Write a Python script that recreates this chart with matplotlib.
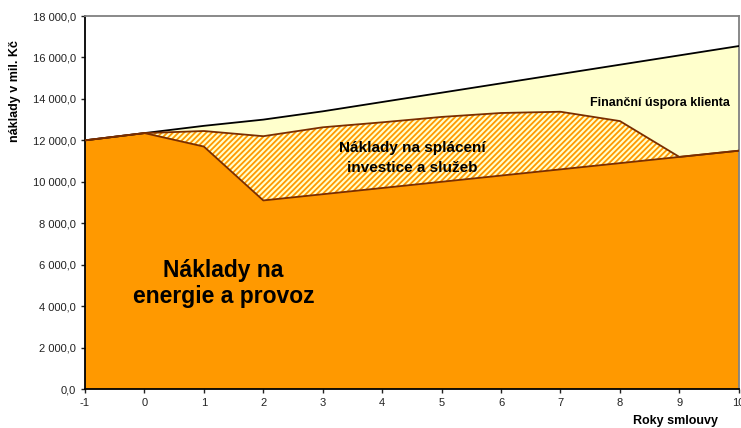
import numpy as np
import matplotlib.pyplot as plt
from matplotlib.ticker import FuncFormatter

plt.rcParams.update({
    'font.family': ['Liberation Sans', 'DejaVu Sans'],
    'hatch.linewidth': 1.3,
    'axes.unicode_minus': False,
})

# ── Data ──────────────────────────────────────────────────────────────────────
years = [-1, 0, 1, 2, 3, 4, 5, 6, 7, 8, 9, 10]
energie = [12000, 12350, 11700, 9100, 9400, 9700, 10000, 10300, 10600, 10900, 11200, 11500]
splaceni = [12000, 12350, 12450, 12200, 12630, 12870, 13130, 13320, 13380, 12930, 11200, 11500]
celkem = [12000, 12350, 12700, 13000, 13400, 13850, 14300, 14750, 15200, 15650, 16100, 16550]
y_ticks = np.arange(0, 18001, 2000)

ORANGE = '#FF9900'
YELLOW = '#FFFFCC'
BROWN = '#7A2E00'

fig = plt.figure(figsize=(7.41, 4.28), dpi=100)
ax = fig.add_axes([0.1147, 0.0911, 0.8823, 0.8715])

ax.fill_between(years, celkem, splaceni, facecolor=YELLOW, linewidth=0, zorder=1)
ax.fill_between(years, splaceni, energie, facecolor=YELLOW, edgecolor=ORANGE,
                hatch='//////', linewidth=0, zorder=1)
ax.fill_between(years, energie, 0, facecolor=ORANGE, linewidth=0, zorder=1)

ax.plot(years, celkem, color='black', linewidth=1.3, zorder=3)
ax.plot(years, splaceni, color=BROWN, linewidth=1.3, zorder=3)
ax.plot(years, energie, color=BROWN, linewidth=1.3, zorder=3)

ax.set_xlim(-1, 10)
ax.set_ylim(0, 18000)
ax.set_xticks(years)
ax.set_yticks(y_ticks)
ax.yaxis.set_major_formatter(FuncFormatter(
    lambda v, p: f"{v:,.1f}".replace(',', ' ').replace('.', ',')))
ax.tick_params(labelsize=8, length=3, width=1, colors='#222222')

for s in ['left', 'bottom']:
    ax.spines[s].set_color('black')
    ax.spines[s].set_linewidth(1.3)
for s in ['top', 'right']:
    ax.spines[s].set_color('#808080')
    ax.spines[s].set_linewidth(1.3)

ax.set_ylabel('náklady v mil. Kč', fontsize=9, fontweight='bold')
ax.yaxis.set_label_coords(-0.098, 0.80)
ax.text(8.94, -1550, 'Roky smlouvy', ha='center', va='center',
        fontsize=9, fontweight='bold', clip_on=False)

ax.text(1.33, 5100, 'Náklady na\nenergie a provoz', ha='center', va='center',
        fontsize=16.5, fontweight='bold', linespacing=1.2)
ax.text(4.5, 11150, 'Náklady na splácení\ninvestice a služeb', ha='center', va='center',
        fontsize=11, fontweight='bold', linespacing=1.55, zorder=4)
ax.text(8.67, 13800, 'Finanční úspora klienta', ha='center', va='center',
        fontsize=9, fontweight='bold', zorder=4)

fig.savefig('out.png', dpi=100)
